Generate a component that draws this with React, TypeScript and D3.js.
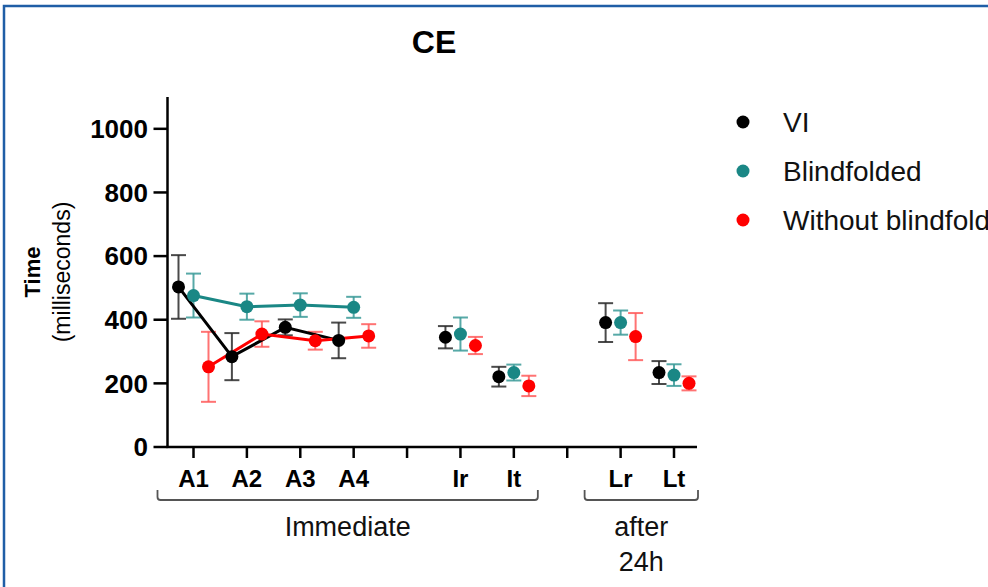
import React from 'react';
import { scaleLinear, scalePoint, line } from 'd3';

// x positions: 10 slots, two of them are empty gaps between groups
const slots = ['A1', 'A2', 'A3', 'A4', 'gap1', 'Ir', 'It', 'gap2', 'Lr', 'Lt'];
const tickLabels = ['A1', 'A2', 'A3', 'A4', '', 'Ir', 'It', '', 'Lr', 'Lt'];
const measured = ['A1', 'A2', 'A3', 'A4', 'Ir', 'It', 'Lr', 'Lt'];
const yTicks = [0, 200, 400, 600, 800, 1000];

const seriesNames = ['VI', 'Blindfolded', 'Without blindfold'];
const seriesColors = ['#000000', '#1a8785', '#ff0000'];
const errColors = ['#2a2a2a', '#3a9a98', '#ff5a5a'];

const viMean = [503, 284, 376, 335, 345, 221, 391, 234];
const viErr = [100, 74, 25, 56, 35, 31, 61, 36];
const blindMean = [476, 441, 446, 439, 355, 234, 391, 226];
const blindErr = [69, 41, 37, 33, 52, 25, 38, 34];
const withoutMean = [252, 355, 334, 349, 319, 192, 347, 200];
const withoutErr = [110, 40, 28, 37, 27, 32, 74, 22];

// only the first four points of each series are joined
const joined = ['A1', 'A2', 'A3', 'A4'];

const groups = [
  { label: ['Immediate'], from: 'A1', to: 'It' },
  { label: ['after', '24h'], from: 'Lr', to: 'Lt' },
];

const font = 'Arial, "Liberation Sans", sans-serif';

export default function App() {
  const x = scalePoint<string>().domain(slots).range([193.5, 674]);
  const y = scaleLinear().domain([0, 1100]).range([447, 97]);
  const offsets = [-15, 0, 15];
  const cap = 7.5;

  const series = [
    { means: viMean, errs: viErr },
    { means: blindMean, errs: blindErr },
    { means: withoutMean, errs: withoutErr },
  ];

  const axisX0 = 167.5;
  const axisX1 = 697;
  const axisY = y(0);

  return (
    <svg width={988} height={587} style={{ position: 'absolute', left: 0, top: 0, background: '#fff' }}
      fontFamily={font}>
      <rect x={4} y={6} width={1000} height={600} fill="#fff" stroke="#1f5ea6" strokeWidth={2.5} />

      <text x={434} y={53} textAnchor="middle" fontSize={32} fontWeight="bold">CE</text>

      {/* y axis */}
      <line x1={axisX0} x2={axisX0} y1={y(1100)} y2={axisY + 1} stroke="#000" strokeWidth={2.5} />
      {yTicks.map((t) => (
        <g key={t}>
          <line x1={axisX0 - 14} x2={axisX0} y1={y(t)} y2={y(t)} stroke="#000" strokeWidth={2.5} />
          <text x={148} y={y(t)} dy="0.36em" textAnchor="end" fontSize={26} fontWeight="bold">{t}</text>
        </g>
      ))}
      <text transform="translate(40,272) rotate(-90)" textAnchor="middle" fontSize={22} fontWeight="bold">Time</text>
      <text transform="translate(70,272) rotate(-90)" textAnchor="middle" fontSize={23}>(milliseconds)</text>

      {/* x axis */}
      <line x1={axisX0 - 1} x2={axisX1} y1={axisY} y2={axisY} stroke="#000" strokeWidth={2.5} />
      {slots.map((s, i) => (
        <g key={s}>
          <line x1={x(s)} x2={x(s)} y1={axisY} y2={axisY + 11} stroke="#000" strokeWidth={2.5} />
          <text x={x(s)} y={487} textAnchor="middle" fontSize={24} fontWeight="bold">{tickLabels[i]}</text>
        </g>
      ))}

      {/* group brackets */}
      {groups.map((g) => {
        const x0 = (x(g.from) as number) - 36;
        const x1 = (x(g.to) as number) + 24;
        const cx = (x0 + x1) / 2;
        return (
          <g key={g.label[0]}>
            <path d={`M${x0},490 L${x0},497 Q${x0},500 ${x0 + 3},500 L${x1 - 3},500 Q${x1},500 ${x1},497 L${x1},490`}
              fill="none" stroke="#555" strokeWidth={1.8} />
            {g.label.map((l, j) => (
              <text key={l} x={cx} y={536 + j * 35} textAnchor="middle" fontSize={27} fill="#111">{l}</text>
            ))}
          </g>
        );
      })}

      {/* error bars */}
      {series.map((sr, k) => (
        <g key={'err' + k} stroke={errColors[k]} strokeWidth={2} strokeOpacity={0.85}>
          {measured.map((m, i) => {
            const cx = (x(m) as number) + offsets[k];
            const top = y(sr.means[i] + sr.errs[i]);
            const bot = y(sr.means[i] - sr.errs[i]);
            return (
              <g key={m}>
                <line x1={cx} x2={cx} y1={top} y2={bot} />
                <line x1={cx - cap} x2={cx + cap} y1={top} y2={top} />
                <line x1={cx - cap} x2={cx + cap} y1={bot} y2={bot} />
              </g>
            );
          })}
        </g>
      ))}

      {/* connecting lines */}
      {series.map((sr, k) => {
        const pts = joined.map((m) => [(x(m) as number) + offsets[k], y(sr.means[measured.indexOf(m)])] as [number, number]);
        return <path key={'ln' + k} d={line()(pts) || ''} fill="none" stroke={seriesColors[k]} strokeWidth={3} />;
      })}

      {/* markers */}
      {series.map((sr, k) => (
        <g key={'pt' + k} fill={seriesColors[k]}>
          {measured.map((m, i) => (
            <circle key={m} cx={(x(m) as number) + offsets[k]} cy={y(sr.means[i])} r={6.5} />
          ))}
        </g>
      ))}

      {/* legend */}
      {seriesNames.map((n, k) => (
        <g key={n}>
          <circle cx={743} cy={122 + k * 49} r={6.5} fill={seriesColors[k]} />
          <text x={783} y={131.5 + k * 49} fontSize={28} fill="#111">{n}</text>
        </g>
      ))}
    </svg>
  );
}
